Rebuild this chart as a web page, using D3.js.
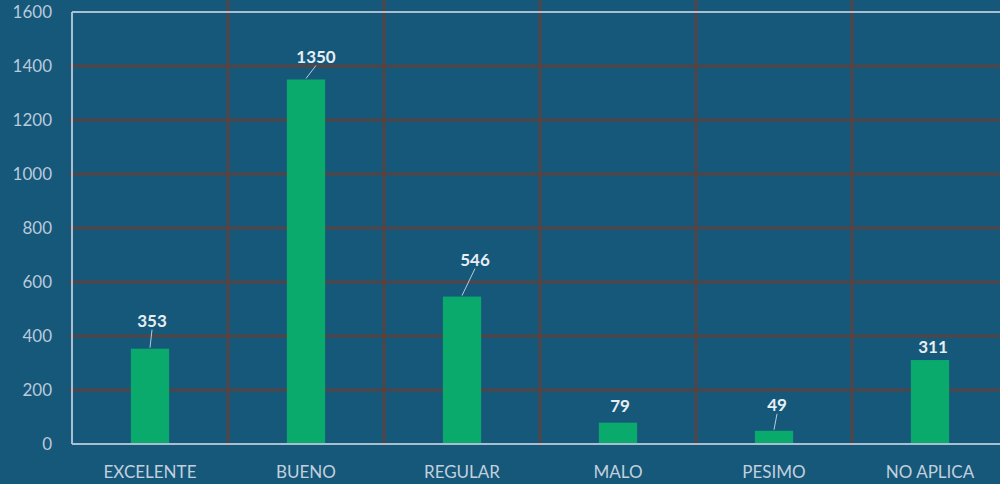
<!DOCTYPE html>
<html><head><meta charset="utf-8">
<script src="https://cdn.jsdelivr.net/npm/d3@7"></script>
<style>html,body{margin:0;padding:0;background:#16587a;overflow:hidden}</style>
</head><body><svg id="c" width="1000" height="484"></svg>
<script>
const categories = ["EXCELENTE","BUENO","REGULAR","MALO","PESIMO","NO APLICA"];
const values = [353,1350,546,79,49,311];
const yTicks = [0,200,400,600,800,1000,1200,1400,1600];
// label nudges [dx, dy above bar top] (styling)
const labelNudge = [[2,22],[10,17],[13,31],[2,11],[3,20],[3,7]];
const leader = [true,true,true,false,true,false];

(function(){
const svg = d3.select("#c");
const pL = 72, pR = 1008, pT = 12, pB = 444;
const x = d3.scaleBand().domain(categories).range([pL,pR]).paddingInner(0).paddingOuter(0);
const y = d3.scaleLinear().domain([0,1600]).range([pB,pT]);
const font = "Lato, 'Open Sans', sans-serif";
const grid = "#61403c";
const axisCol = "#a9bfd0";

svg.append("rect").attr("width",1000).attr("height",484).attr("fill","#16587a");

svg.append("g").selectAll("line").data(yTicks.filter(d=>d>0 && d<1600)).join("line")
  .attr("x1",pL-3).attr("x2",1000).attr("y1",d=>y(d)).attr("y2",d=>y(d))
  .attr("stroke",grid).attr("stroke-width",2.5);
svg.append("g").selectAll("line").data(categories.slice(1)).join("line")
  .attr("x1",d=>x(d)).attr("x2",d=>x(d)).attr("y1",0).attr("y2",pB+2)
  .attr("stroke",grid).attr("stroke-width",2.5);

svg.append("line").attr("x1",pL).attr("x2",1000).attr("y1",y(1600)).attr("y2",y(1600)).attr("stroke",axisCol).attr("stroke-width",2);
svg.append("line").attr("x1",pL).attr("x2",pL).attr("y1",y(1600)).attr("y2",pB).attr("stroke",axisCol).attr("stroke-width",2);

const bw = x.bandwidth()*0.245;
svg.append("g").selectAll("rect").data(values).join("rect")
  .attr("x",(d,i)=>x(categories[i])+x.bandwidth()/2-bw/2)
  .attr("y",d=>y(d)).attr("width",bw).attr("height",d=>pB-y(d))
  .attr("fill","#0aaa6c");

svg.append("line").attr("x1",pL).attr("x2",1000).attr("y1",pB).attr("y2",pB).attr("stroke",axisCol).attr("stroke-width",2);

svg.append("g").selectAll("text").data(yTicks).join("text")
  .attr("x",52).attr("y",d=>y(d)).attr("dy","0.36em").attr("text-anchor","end")
  .attr("font-family",font).attr("font-size",17).attr("fill","#b9cadb").text(d=>d);

svg.append("g").selectAll("text").data(categories).join("text")
  .attr("x",d=>x(d)+x.bandwidth()/2).attr("y",478).attr("text-anchor","middle")
  .attr("font-family",font).attr("font-size",17).attr("fill","#c2d0de").text(d=>d);

values.forEach((v,i)=>{
  const cx = x(categories[i])+x.bandwidth()/2;
  const lx = cx+labelNudge[i][0], ly = y(v)-labelNudge[i][1];
  if(leader[i]){
    svg.append("line").attr("x1",lx).attr("y1",ly+3).attr("x2",cx).attr("y2",y(v)-1)
      .attr("stroke","#b9cadb").attr("stroke-width",1);
  }
  svg.append("text").attr("x",lx).attr("y",ly).attr("text-anchor","middle")
    .attr("font-family",font).attr("font-weight","bold").attr("font-size",17)
    .attr("fill","#e6eef4").text(v);
});
})();
</script></body></html>
